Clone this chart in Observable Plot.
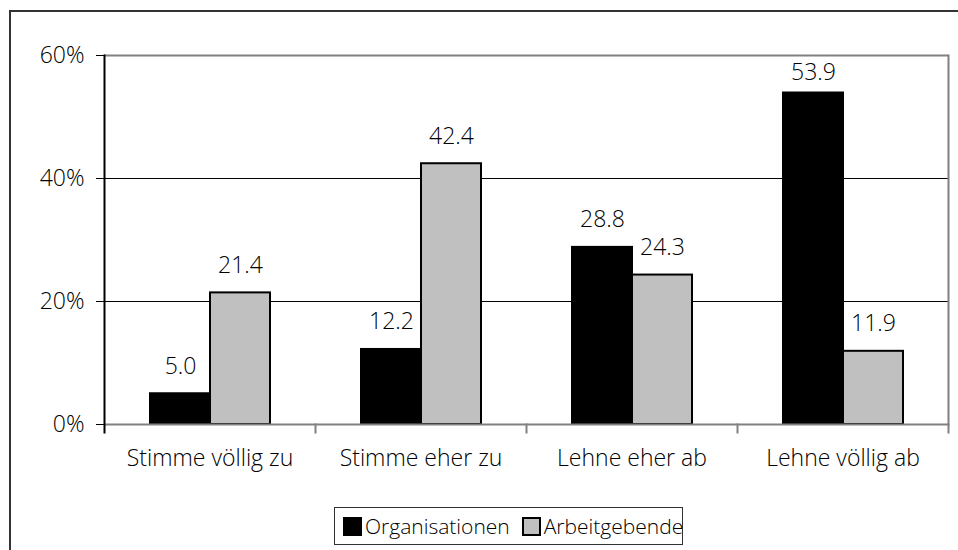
<!DOCTYPE html>
<html>
<head>
<meta charset="utf-8">
<script src="https://cdn.jsdelivr.net/npm/d3@7"></script>
<script src="https://cdn.jsdelivr.net/npm/@observablehq/plot@0.6"></script>
<style>
  html, body { margin: 0; padding: 0; background: #fff; }
  body { width: 958px; height: 550px; position: relative; overflow: hidden; font-family: "Open Sans", sans-serif; font-weight: 300; }
  #frame { position: absolute; left: 9px; top: 10px; width: 970px; height: 600px; border: 2px solid #333; box-sizing: border-box; }
  #chart { position: absolute; left: 0; top: 0; }
  #chart text { font-weight: 300; }
  #legend { position: absolute; left: 334px; top: 507px; width: 349px; height: 38px; border: 1.5px solid #333; box-sizing: border-box;
            display: flex; align-items: center; font-size: 21px; color: #000; padding-left: 8px; }
  .item { display: flex; align-items: center; margin-right: 12px; }
  .sw { width: 15px; height: 15px; border: 2px solid #000; margin-right: 3px; }
</style>
</head>
<body>
<div id="frame"></div>
<div id="chart"></div>
<div id="legend"></div>
<script>
const categories = ["Stimme völlig zu", "Stimme eher zu", "Lehne eher ab", "Lehne völlig ab"];
const seriesNames = ["Organisationen", "Arbeitgebende"];
const organisationen = [5.0, 12.2, 28.8, 53.9];
const arbeitgebende = [21.4, 42.4, 24.3, 11.9];
const yTicks = [0, 20, 40, 60];
const colors = ["#000000", "#c0c0c0"];

const data = [];
categories.forEach((c, i) => {
  data.push({cat: c, series: seriesNames[0], value: organisationen[i]});
  data.push({cat: c, series: seriesNames[1], value: arbeitgebende[i]});
});

const W = 958, H = 480, mT = 55, mL = 102, mR = 9, mB = 56;
const plotH = H - mT - mB;
const font = "'Open Sans', sans-serif";
// labels that would leave the plot area are kept inside it (as in the original)
const labelCap = 52.7;

const chart = Plot.plot({
  width: W, height: H,
  marginTop: mT, marginLeft: mL, marginRight: mR, marginBottom: mB,
  style: {fontFamily: font, fontSize: "23px", color: "#000", background: "transparent"},
  fx: {domain: categories, padding: 0, axis: null},
  x: {domain: seriesNames, paddingInner: 0, paddingOuter: 0.74, axis: null},
  y: {domain: [0, 60], axis: null},
  color: {domain: seriesNames, range: colors},
  marks: [
    Plot.ruleY([20, 40], {stroke: "#000", strokeWidth: 1}),
    Plot.ruleY([60], {stroke: "#808080", strokeWidth: 2}),
    Plot.frame({anchor: "right", facetAnchor: "right", stroke: "#808080", strokeWidth: 2}),
    Plot.frame({anchor: "right", insetTop: plotH, insetBottom: -8, stroke: "#808080", strokeWidth: 2}),
    Plot.barY(data, {fx: "cat", x: "series", y: "value", fill: "series", stroke: "#000", strokeWidth: 2}),
    Plot.ruleY([0], {stroke: "#808080", strokeWidth: 2}),
    Plot.frame({anchor: "left", facetAnchor: "left", insetBottom: -8, stroke: "#000", strokeWidth: 2}),
    Plot.axisY({ticks: yTicks, tickSize: 8, tickPadding: 12, tickFormat: d => d + "%", stroke: "#000", fontSize: 23, label: null, facetAnchor: "left"}),
    Plot.axisFx({anchor: "bottom", tickSize: 0, tickPadding: 25, fontSize: 23, label: null}),
    Plot.text(data, {fx: "cat", x: "series", y: d => Math.min(d.value, labelCap), text: d => d.value.toFixed(1), lineAnchor: "bottom", dy: -20, fontSize: 23, fill: "#000"})
  ]
});
document.getElementById("chart").appendChild(chart);

const legend = document.getElementById("legend");
seriesNames.forEach((s, i) => {
  const item = document.createElement("div");
  item.className = "item";
  const sw = document.createElement("div");
  sw.className = "sw";
  sw.style.background = colors[i];
  const t = document.createElement("span");
  t.textContent = s;
  item.appendChild(sw);
  item.appendChild(t);
  legend.appendChild(item);
});
</script>
</body>
</html>
